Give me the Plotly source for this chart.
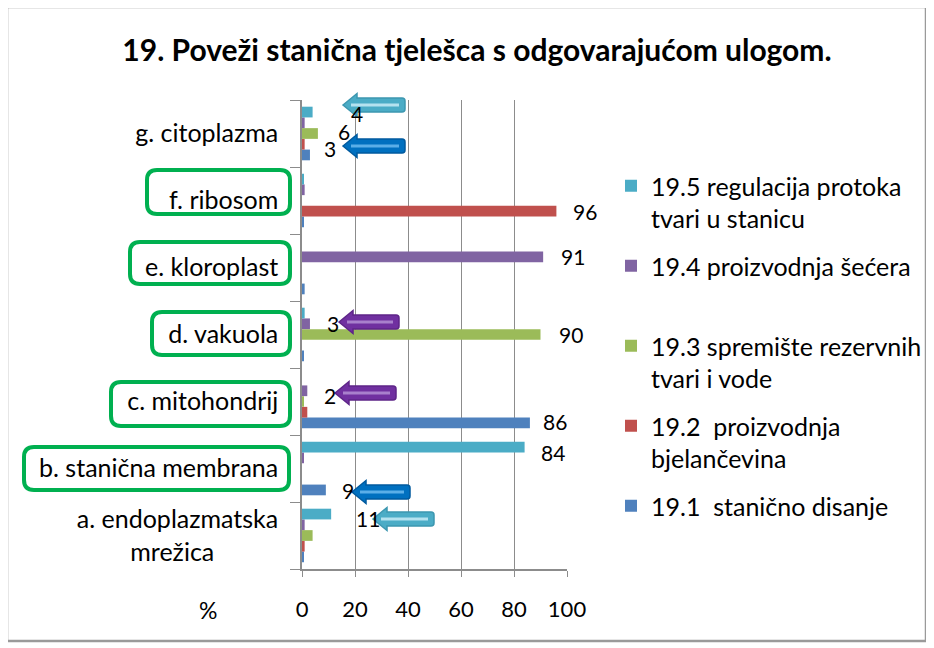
import plotly.graph_objects as go

# ---------------- data ----------------
categories = ["a. endoplazmatska<br>mrežica" + "\u00a0" * 10, "b. stanična membrana", "c. mitohondrij",
              "d. vakuola", "e. kloroplast", "f. ribosom", "g. citoplazma"]
series_names = ["19.1  stanično disanje", "19.2  proizvodnja<br>bjelančevina",
                "19.3 spremište rezervnih<br>tvari i vode", "19.4 proizvodnja šećera<br>\u00a0",
                "19.5 regulacija protoka<br>tvari u stanicu"]
s19_1 = [0.5, 9, 86, 0.5, 1, 0.5, 3]
s19_2 = [1, 0, 2, 0, 0, 96, 1]
s19_3 = [4, 0, 0.5, 90, 0, 0, 6]
s19_4 = [1, 0.5, 2, 3, 91, 1, 1]
s19_5 = [11, 84, 0, 1, 0, 0.5, 4]
series_values = [s19_1, s19_2, s19_3, s19_4, s19_5]
x_ticks = [0, 20, 40, 60, 80, 100]
# labelled bars: (category index, series index)
labelled = [(6, 4), (6, 2), (6, 0), (5, 1), (4, 3), (3, 3), (3, 2), (2, 3), (2, 0), (1, 4), (1, 0), (0, 4)]

# ---------------- style ----------------
colors = ["#4F81BD", "#C0504D", "#9BBB59", "#8064A2", "#4BACC6"]
FONT = "Lato"
OFF = 8                      # page body margin
W, H = 934 - OFF, 648 - OFF
ML, MR, MT, MB = 302 - OFF, 934 - 567, 100 - OFF, 648 - 569
PW, PH = W - ML - MR, H - MT - MB


def px(x):
    return (x - OFF - ML) / PW


def py(y):
    return 1 - (y - OFF - MT) / PH


fig = go.Figure()
n = len(series_names)
for i, (name, vals, col) in enumerate(zip(series_names, series_values, colors)):
    fig.add_trace(go.Bar(y=categories, x=vals, name=name, orientation="h",
                         marker=dict(color=col, line=dict(width=0)),
                         legendgroup=name, legendrank=n - i, hoverinfo="x+name"))

# data label offsets (pixels) for each labelled bar
label_shift = {(6, 4): (44, -1), (6, 2): (26, 2), (6, 0): (20, 6), (5, 1): (29, 0),
               (4, 3): (30, 0), (3, 3): (23, 0), (3, 2): (30, 0), (2, 3): (23, -5),
               (2, 0): (25, 1), (1, 4): (28, -5), (1, 0): (22, -1), (0, 4): (37, -4)}
BAR_PX = 10.6
annotations = []
for ci, si in labelled:
    v = series_values[si][ci]
    dx, dy = label_shift[(ci, si)]
    annotations.append(dict(x=v, y=categories[ci], xref="x", yref="y", text=str(int(v)),
                            showarrow=False, xanchor="center", yanchor="middle",
                            xshift=dx, yshift=(si - 2) * BAR_PX + dy,
                            font=dict(family=FONT, size=21, color="#000")))

annotations.append(dict(x=px(208), y=py(610), xref="paper", yref="paper", text="%",
                        showarrow=False, xanchor="center", yanchor="middle",
                        font=dict(family=FONT, size=23, color="#000")))

shapes = []
# outer chart border
shapes.append(dict(type="rect", xref="paper", yref="paper", x0=px(7), x1=px(926), y0=py(7), y1=py(641),
                   line=dict(color="#9a9a9a", width=2.5), layer="below"))


def rounded(x0, y0, x1, y1, r):
    return (f"M{px(x0 + r)},{py(y0)} L{px(x1 - r)},{py(y0)} Q{px(x1)},{py(y0)} {px(x1)},{py(y0 + r)} "
            f"L{px(x1)},{py(y1 - r)} Q{px(x1)},{py(y1)} {px(x1 - r)},{py(y1)} "
            f"L{px(x0 + r)},{py(y1)} Q{px(x0)},{py(y1)} {px(x0)},{py(y1 - r)} "
            f"L{px(x0)},{py(y0 + r)} Q{px(x0)},{py(y0)} {px(x0 + r)},{py(y0)} Z")


for box in [(147, 170, 290, 214), (130, 242, 290, 284), (152, 312, 290, 355),
            (111, 382, 290, 426), (24, 447, 289, 490)]:
    shapes.append(dict(type="path", xref="paper", yref="paper", path=rounded(*box, 10),
                       line=dict(color="#00B050", width=4)))


def arrow(tip, right, cy, fill, edge, hi):
    hh, sh, hl = 11.5, 7, 14
    p = (f"M{px(tip)},{py(cy)} L{px(tip + hl)},{py(cy - hh)} L{px(tip + hl)},{py(cy - sh)} "
         f"L{px(right - 3)},{py(cy - sh)} Q{px(right)},{py(cy - sh)} {px(right)},{py(cy - sh + 3)} "
         f"L{px(right)},{py(cy + sh - 3)} Q{px(right)},{py(cy + sh)} {px(right - 3)},{py(cy + sh)} "
         f"L{px(tip + hl)},{py(cy + sh)} L{px(tip + hl)},{py(cy + hh)} Z")
    shapes.append(dict(type="path", xref="paper", yref="paper", path=p, fillcolor=fill,
                       line=dict(color=edge, width=1.5)))
    shapes.append(dict(type="line", xref="paper", yref="paper", x0=px(tip + 8), x1=px(right - 6),
                       y0=py(cy), y1=py(cy), line=dict(color=hi, width=3)))


CY = ("#4BACC6", "#3d97b0", "#b5e2ef")
DB = ("#0070C0", "#005a9e", "#5aaee8")
PU = ("#7030A0", "#5e2588", "#a880cc")
for tip, right, cy, c in [(343, 405, 105, CY), (343, 405, 146, DB), (339, 399, 322, PU),
                          (335, 396, 393, PU), (352, 410, 492, DB), (373, 434, 519, CY)]:
    arrow(tip, right, cy, *c)

fig.update_layout(
    width=W, height=H, margin=dict(l=ML, r=MR, t=MT, b=MB, autoexpand=False),
    paper_bgcolor="white", plot_bgcolor="white",
    barmode="group", bargap=0.2, bargroupgap=0,
    title=dict(text="<b>19. Poveži stanična tjelešca s odgovarajućom ulogom.</b>",
               x=(477 - OFF) / W, xanchor="center", y=1 - (50 - OFF) / H, yanchor="middle",
               font=dict(family=FONT, size=30, color="#000")),
    font=dict(family=FONT, size=23, color="#000"),
    legend=dict(x=px(611), xanchor="left", y=py(163), yanchor="top", traceorder="grouped",
                valign="top", tracegroupgap=12, font=dict(family=FONT, size=25, color="#000"),
                itemclick=False, itemdoubleclick=False, bgcolor="rgba(0,0,0,0)"),
    showlegend=True,
    annotations=annotations, shapes=shapes,
)
fig.update_xaxes(range=[0, 100], tickvals=x_ticks, showgrid=True, gridcolor="#8c8c8c", gridwidth=1.3,
                 zeroline=False, showline=True, linecolor="#8c8c8c", linewidth=1.5,
                 ticks="outside", ticklen=6, tickcolor="#8c8c8c", ticklabelstandoff=14,
                 tickfont=dict(family=FONT, size=22, color="#000"), fixedrange=True)
fig.update_yaxes(type="category", categoryorder="array", categoryarray=categories,
                 range=[-0.5, len(categories) - 0.5],
                 showgrid=False, zeroline=False, showline=True, linecolor="#8c8c8c", linewidth=1.5,
                 ticks="outside", ticklen=10, tickcolor="#8c8c8c", tickson="boundaries",
                 ticklabelstandoff=17,
                 tickfont=dict(family=FONT, size=25, color="#000"), fixedrange=True)

fig.write_html("out.html", config={"displayModeBar": False})
